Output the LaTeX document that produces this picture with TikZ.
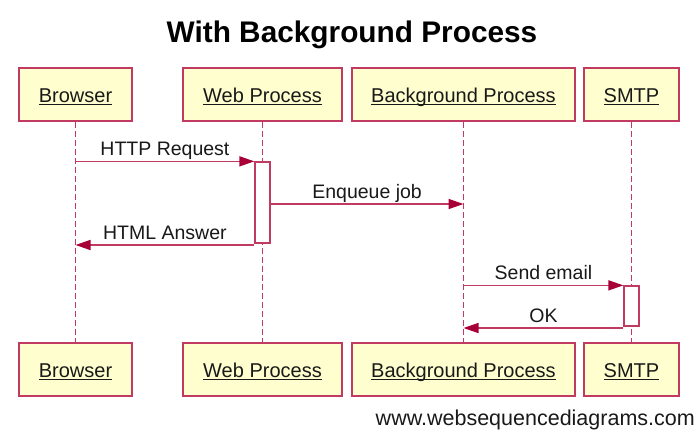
\documentclass[tikz,border=0pt]{standalone}
\usepackage{fontspec}
\setmainfont{Liberation Sans}
\usetikzlibrary{arrows.meta}
\definecolor{wsdred}{HTML}{A80036}
\definecolor{wsdbox}{HTML}{FEFECE}
\definecolor{wsdedge}{HTML}{C03A62}
\newcommand\ultext[1]{\setbox0=\hbox{#1}\rlap{\rule[-2.6pt]{\wd0}{1.2pt}}\box0}
\begin{document}
\begin{tikzpicture}[x=1pt,y=-1pt,
  participant/.style={draw=wsdedge, line width=1.5pt, fill=wsdbox, minimum height=53pt,
    inner sep=0pt, text height=19pt, text depth=3pt, font=\fontsize{20}{24}\selectfont, text=black!90},
  lifeline/.style={draw=wsdedge, line width=1pt, dash pattern=on 6pt off 3pt},
  activation/.style={draw=wsdedge, line width=1.3pt, fill=white, minimum width=15pt, inner sep=0pt},
  msg/.style={draw=wsdedge, line width=1.5pt, -{Triangle[length=15pt,width=10pt,color=wsdred]}},
  msglabel/.style={anchor=base, inner sep=0pt, yshift=6pt, font=\fontsize{19.5}{23}\selectfont, text=black!90}]
\fill[white] (0,0) rectangle (700,432);
\useasboundingbox (0,0) rectangle (700,432);
% title
\node[anchor=base, inner sep=0pt, font=\bfseries\fontsize{29.8}{34}\selectfont] (title) at (352,42) {With Background Process};
% participants (top)
\node[participant, minimum width=113pt] (b1) at (75.5,94.5) {\ultext{Browser}};
\node[participant, minimum width=159pt] (w1) at (262.5,94.5) {\ultext{Web Process}};
\node[participant, minimum width=223pt] (c1) at (463.5,94.5) {\ultext{Background Process}};
\node[participant, minimum width=95pt] (s1) at (631.5,94.5) {\ultext{SMTP}};
% participants (bottom)
\node[participant, minimum width=113pt] (b2) at (75.5,369.5) {\ultext{Browser}};
\node[participant, minimum width=159pt] (w2) at (262.5,369.5) {\ultext{Web Process}};
\node[participant, minimum width=223pt] (c2) at (463.5,369.5) {\ultext{Background Process}};
\node[participant, minimum width=95pt] (s2) at (631.5,369.5) {\ultext{SMTP}};
% lifelines
\draw[lifeline] (b1.south) -- (b2.north);
\draw[lifeline] (w1.south) -- (w2.north);
\draw[lifeline] (c1.south) -- (c2.north);
\draw[lifeline] (s1.south) -- (s2.north);
% activations
\node[activation, minimum height=81pt] (act1) at (262.5,202.5) {};
\node[activation, minimum height=40pt] (act2) at (631.5,306) {};
% messages
\draw[msg] (b1.south |- act1.north west) -- node[msglabel] {HTTP Request} (act1.north west);
\coordinate (enq) at (act1.east |- 0,204);
\draw[msg] (enq) -- node[msglabel] {Enqueue job} (enq -| c1.south);
\coordinate (ans) at (act1.west |- 0,245);
\draw[msg] (ans) -- node[msglabel] {HTML Answer} (ans -| b1.south);
\draw[msg] (c1.south |- act2.north west) -- node[msglabel] {Send email} (act2.north west);
\coordinate (ok) at (act2.west |- 0,328);
\draw[msg] (ok) -- node[msglabel] {OK} (ok -| c1.south);
% footer
\node[anchor=base east, inner sep=0pt, font=\fontsize{21.5}{25}\selectfont, text=black!90] (footer) at (695,425) {www.websequencediagrams.com};
\end{tikzpicture}
\end{document}
